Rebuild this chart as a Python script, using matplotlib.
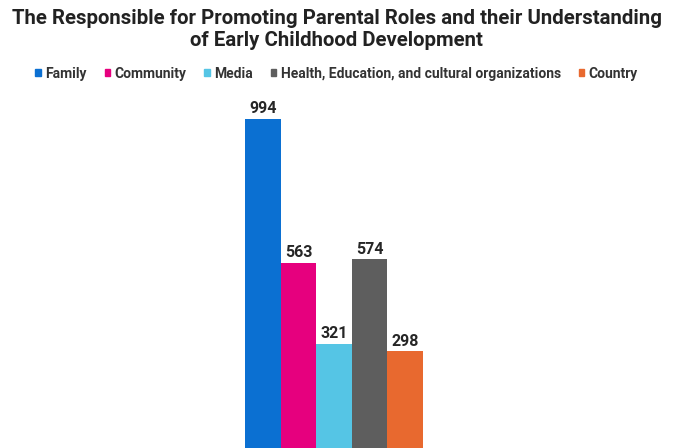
import matplotlib.pyplot as plt
from matplotlib.patches import Patch

categories = ["Family", "Community", "Media",
              "Health, Education, and cultural organizations", "Country"]
counts = [994, 563, 321, 574, 298]
colors = ["#0B70D2", "#E6007E", "#55C5E5", "#5E5E5E", "#E8692F"]

plt.rcParams['font.family'] = ['Roboto', 'DejaVu Sans']

fig = plt.figure(figsize=(6.73, 4.48), dpi=100)
ax = fig.add_axes([245 / 673, -3 / 448, 178 / 673, 334 / 448])

x = range(len(counts))
bars = ax.bar(x, counts, width=1.0, color=colors)
for b, v in zip(bars, counts):
    ax.text(b.get_x() + b.get_width() / 2, v + 8, str(v), ha="center", va="bottom",
            fontsize=11.5, fontweight="bold", color="#262626")

ax.set_xlim(-0.5, 4.5)
ax.set_ylim(0, 1000)
ax.axis("off")

fig.text(0.5, 0.98, "The Responsible for Promoting Parental Roles and their Understanding\nof Early Childhood Development",
         ha="center", va="top", fontsize=14.7, fontweight="bold", color="#222222", linespacing=1.2)

handles = [Patch(color=c) for c in colors]
fig.legend(handles, categories, loc="center", bbox_to_anchor=(0.5, 0.835), ncol=5,
           frameon=False, handlelength=0.4, handleheight=0.4, handletextpad=0.3,
           columnspacing=1.3, prop={"size": 10, "weight": "bold"}, labelcolor="#333333")

fig.savefig("out.png", dpi=100)
